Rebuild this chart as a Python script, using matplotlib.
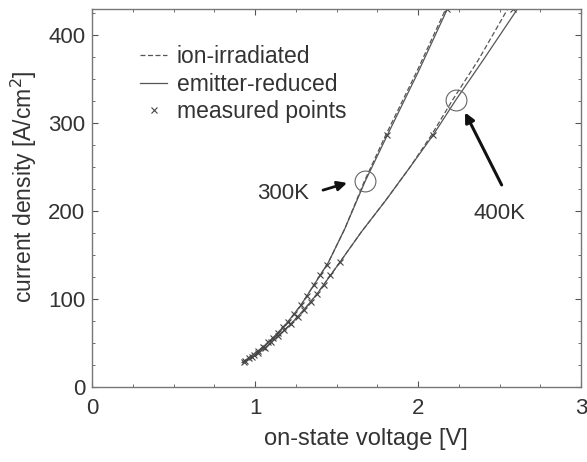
import matplotlib
matplotlib.use("Agg")
import matplotlib.pyplot as plt
from matplotlib.lines import Line2D
from matplotlib.ticker import MultipleLocator

plt.rcParams['font.family'] = ['Liberation Sans', 'DejaVu Sans']

# 300K curves (V, J)
V300_er = [0.92, 0.98, 1.05, 1.12, 1.20, 1.28, 1.36, 1.45, 1.55, 1.675, 1.81, 2.00, 2.18]
J300_er = [28, 36, 46, 58, 74, 93, 116, 142, 180, 234, 286, 358, 430]
V300_ii = [0.92, 0.98, 1.05, 1.12, 1.20, 1.28, 1.36, 1.45, 1.55, 1.67, 1.80, 1.99, 2.17]
J300_ii = [28, 36, 46, 58, 74, 93, 116, 142, 180, 234, 286, 358, 430]

# 400K curves
V400_er = [0.93, 1.00, 1.07, 1.14, 1.22, 1.30, 1.38, 1.45, 1.52, 1.65, 1.80, 1.95, 2.09, 2.23, 2.40, 2.61]
J400_er = [28, 36, 46, 58, 72, 88, 106, 124, 142, 176, 212, 250, 286, 326, 372, 430]
V400_ii = [0.93, 1.00, 1.07, 1.14, 1.22, 1.30, 1.38, 1.45, 1.52, 1.65, 1.80, 1.95, 2.08, 2.21, 2.37, 2.55]
J400_ii = [28, 36, 46, 58, 72, 88, 106, 124, 142, 176, 212, 250, 286, 326, 372, 430]

# measured points
mV300 = [0.93, 0.96, 0.99, 1.02, 1.05, 1.08, 1.11, 1.14, 1.17, 1.20, 1.24, 1.28, 1.32, 1.36, 1.40, 1.44, 1.81, 2.18]
mJ300 = [29, 33, 37, 41, 46, 51, 56, 62, 68, 74, 83, 93, 104, 116, 128, 139, 286, 430]
mV400 = [0.94, 0.98, 1.02, 1.06, 1.10, 1.14, 1.18, 1.22, 1.26, 1.30, 1.34, 1.38, 1.42, 1.46, 1.52, 2.09, 2.58]
mJ400 = [30, 34, 39, 44, 51, 58, 65, 72, 80, 88, 97, 106, 116, 127, 142, 286, 430]

# circles
circ_V = [1.675, 2.23]
circ_J = [234, 326]

fig = plt.figure(figsize=(5.87, 4.62), dpi=100)
ax = fig.add_axes([0.157, 0.162, 0.833, 0.819])

lc = '#555555'
ax.plot(V300_ii, J300_ii, color=lc, lw=0.9, ls=(0, (4, 2)))
ax.plot(V300_er, J300_er, color=lc, lw=0.9)
ax.plot(V400_ii, J400_ii, color=lc, lw=0.9, ls=(0, (4, 2)))
ax.plot(V400_er, J400_er, color=lc, lw=0.9)
ax.plot(mV300, mJ300, 'x', color='#444444', ms=4, mew=0.8)
ax.plot(mV400, mJ400, 'x', color='#444444', ms=4, mew=0.8)
ax.plot(circ_V, circ_J, 'o', mfc='none', mec='#666666', ms=15, mew=0.8)

fs = 16
ax.annotate('', xy=(1.58, 233), xytext=(1.40, 223),
            arrowprops=dict(arrowstyle='-|>', lw=2, color='#111111', mutation_scale=14))
ax.text(1.17, 220, '300K', fontsize=fs, ha='center', va='center', color='#333333')
ax.annotate('', xy=(2.28, 315), xytext=(2.52, 227),
            arrowprops=dict(arrowstyle='-|>', lw=2.2, color='#111111', mutation_scale=14))
ax.text(2.50, 197, '400K', fontsize=fs, ha='center', va='center', color='#333333')

ax.set_xlim(0, 3)
ax.set_ylim(0, 430)
ax.xaxis.set_major_locator(MultipleLocator(1))
ax.xaxis.set_minor_locator(MultipleLocator(0.25))
ax.yaxis.set_major_locator(MultipleLocator(100))
ax.yaxis.set_minor_locator(MultipleLocator(25))
ax.tick_params(which='both', direction='in', top=True, right=True, colors='#555555',
               labelcolor='#333333', labelsize=fs)
ax.tick_params(which='major', length=4)
ax.tick_params(which='minor', length=2.5)
ax.tick_params(axis='x', which='major', pad=8)
ax.tick_params(axis='y', which='major', pad=5)
for s in ax.spines.values():
    s.set_color('#777777')
    s.set_linewidth(1.0)

ax.set_xlabel('on-state voltage [V]', fontsize=17, color='#333333')
ax.set_ylabel('current density [A/cm$^2$]', fontsize=16.5, color='#333333')
ax.xaxis.set_label_coords(0.56, -0.108)
ax.yaxis.set_label_coords(-0.108, 0.53)

handles = [Line2D([], [], color=lc, lw=0.9, ls=(0, (4, 2))),
           Line2D([], [], color=lc, lw=0.9),
           Line2D([], [], color='#444444', marker='x', ls='none', ms=4, mew=0.8)]
ax.legend(handles, ['ion-irradiated', 'emitter-reduced', 'measured points'],
          loc='upper left', bbox_to_anchor=(0.079, 0.928), frameon=False, fontsize=16.5,
          handlelength=1.2, handletextpad=0.4, labelspacing=0.2, borderaxespad=0,
          labelcolor='#333333')

fig.savefig('out.png', dpi=100)
